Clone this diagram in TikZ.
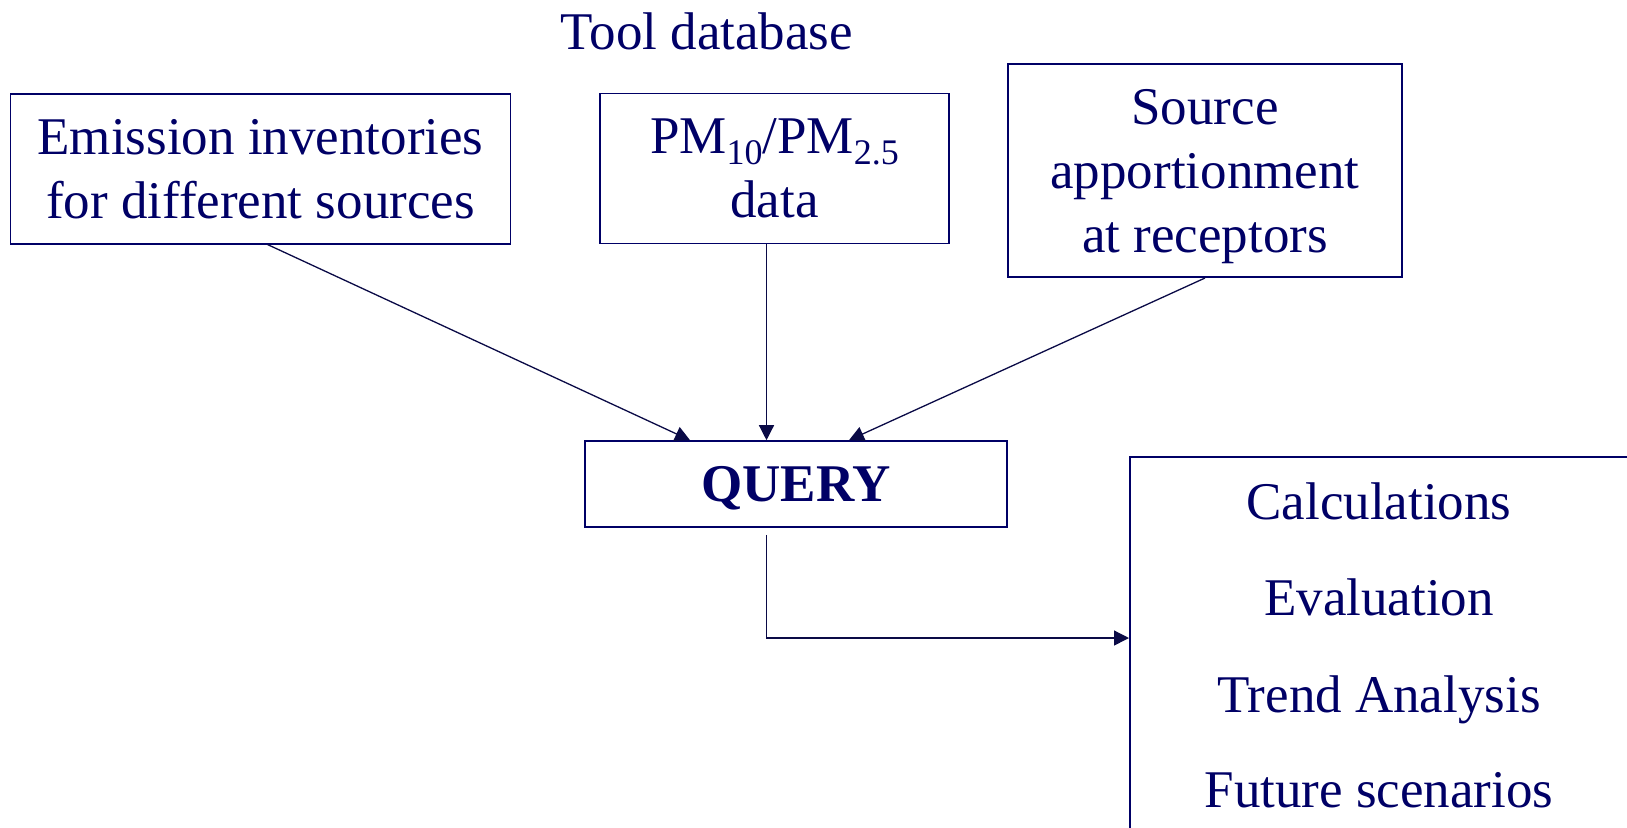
\documentclass[tikz,border=0pt]{standalone}
\usepackage{fontspec}
\setmainfont{Liberation Serif}
\usepackage{tikz}
\usetikzlibrary{arrows.meta,positioning,calc}

\definecolor{navytext}{RGB}{0,0,102}
\definecolor{navyline}{RGB}{10,10,70}

\newcommand{\pmsub}[1]{\raisebox{-5.5pt}{\fontsize{18}{18}\selectfont #1}}

\tikzset{
  bigfont/.style={font=\fontsize{26.5}{32}\selectfont},
  box/.style={draw=navytext, line width=0.9pt, inner sep=0pt, align=center, text=navytext, text depth=0pt, bigfont},
  txt/.style={text=navytext, bigfont},
  flow/.style={-{Triangle[length=7.5pt,width=7.5pt]}, draw=navyline, line width=0.65pt}
}

\begin{document}
\begin{tikzpicture}[x=0.5pt, y=-0.5pt]
        \useasboundingbox (0,0) rectangle (1627,827);

        % Title
        \node[txt, anchor=base] (title) at (707,49) {Tool database};

        % Draw data boxes
        \node[box, minimum width=250pt, minimum height=75pt] (emis) at (260.5,168.6) {Emission inventories\\for different sources};
        \node[box, minimum width=174.5pt, minimum height=75pt] (pm) at (774.5,168.5) {PM\pmsub{10}/PM\pmsub{2.5}\\data};
        \node[box, minimum width=196.7pt, minimum height=106.4pt] (src) at (1205,170.7) {Source\\apportionment\\at receptors};

        % Draw Query
        \node[box, minimum width=211pt, minimum height=42.9pt, font=\fontsize{26.5}{32}\selectfont\bfseries] (query) at (796,484) {QUERY};

        % Draw results box (runs off the page)
        \node[box, minimum width=257pt, minimum height=230pt, anchor=north west] (res) at (1129,456) {};
        \foreach \y/\t [count=\i] in {519/Calculations, 615/Evaluation, 712/Trend Analysis, 807/Future scenarios}
            \node[txt, anchor=base] (item\i) at (1379,\y) {\t};

        % Draw arrows into query
        \coordinate (pmout) at ($(pm.south)+(-8,0)$);
        \draw[flow] ($(emis.south)+(7,0)$) -- ($(query.north west)!0.25!(query.north east)$);
        \draw[flow] (pmout) -- (pmout |- query.north);
        \draw[flow] (src.south) -- ($(query.north west)!0.625!(query.north east)$);

        % Arrow to results
        \coordinate (qout) at ($(pmout |- query.south)+(0,7)$);
        \coordinate (resin) at ($(res.north west)+(0,182)$);
        \draw[flow] (qout) |- (resin);
    \end{tikzpicture}
\end{document}
